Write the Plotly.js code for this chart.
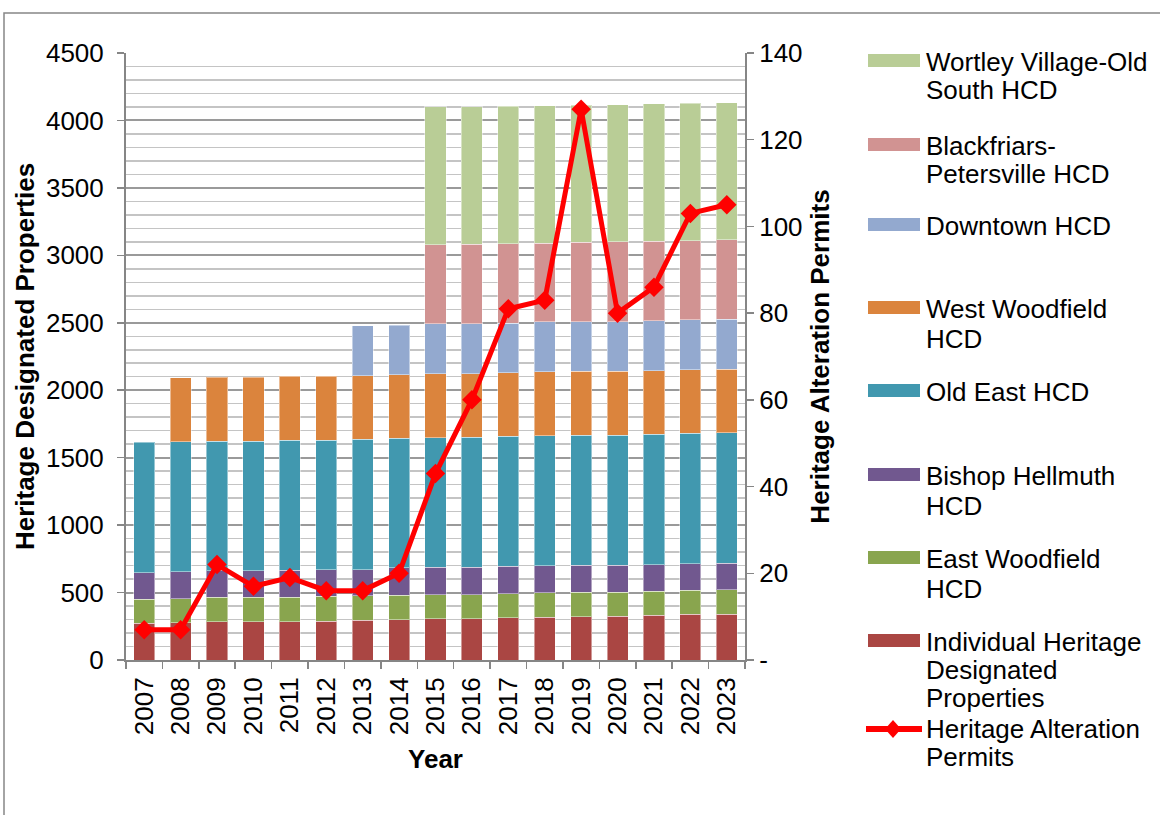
<!DOCTYPE html>
<html>
<head>
<meta charset="utf-8">
<script src="https://cdn.plot.ly/plotly-3.0.1.min.js"></script>
<style>
  html, body { margin: 0; padding: 0; background: #ffffff; }
  #chart { width: 1160px; height: 815px; }
</style>
</head>
<body>
<div id="chart"></div>
<script>
// ---------------- DATA ----------------
const years = ["2007","2008","2009","2010","2011","2012","2013","2014","2015","2016","2017","2018","2019","2020","2021","2022","2023"];

const individual    = [272,277,282,284,284,289,294,297,304,304,314,316,321,323,331,339,341];
const eastWoodfield = [180,178,183,183,183,183,183,182,180,181,178,181,181,179,178,178,178];
const bishop        = [195,200,195,193,197,197,192,205,203,202,202,202,200,200,198,197,198];
const oldEast       = [967,963,963,963,966,962,967,959,961,966,964,964,963,963,966,967,968];
const westWoodfield = [null,475,475,475,472,474,472,472,474,469,472,474,475,475,472,471,470];
const downtown      = [null,null,null,null,null,null,370,368,371,371,368,369,368,368,370,371,370];
const blackfriars   = [null,null,null,null,null,null,null,null,586,591,588,585,589,591,589,586,589];
const wortley       = [null,null,null,null,null,null,null,null,1023,1018,1018,1018,1014,1018,1018,1020,1018];

const permits       = [7,7,22,17,19,16,16,20,43,60,81,83,127,80,86,103,105];

// legend labels (wrapped as in the original)
const labelIndividual = ["Individual Heritage","Designated","Properties"];
const labelEastWood   = ["East Woodfield","HCD"];
const labelBishop     = ["Bishop Hellmuth","HCD"];
const labelOldEast    = ["Old East HCD"];
const labelWestWood   = ["West Woodfield","HCD"];
const labelDowntown   = ["Downtown HCD"];
const labelBlackfr    = ["Blackfriars-","Petersville HCD"];
const labelWortley    = ["Wortley Village-Old","South HCD"];
const labelPermits    = ["Heritage Alteration","Permits"];

const y2TickVals = [0,20,40,60,80,100,120,140];
const y2TickText = ["-","20","40","60","80","100","120","140"];

// ---------------- STYLE ----------------
const FONT = "Liberation Sans, Arial, sans-serif";
const colors = {
  individual: "#AA4643",
  eastWood:   "#89A54E",
  bishop:     "#71588F",
  oldEast:    "#4198AF",
  westWood:   "#DB843D",
  downtown:   "#93A9CF",
  blackfr:    "#D19392",
  wortley:    "#B9CD96",
  permits:    "#FF0000"
};

const L = 126, R = 745, T = 53, B = 660, W_ = 1160, H_ = 815;
const PW = R - L, PH = B - T;
const X = px => (px - L) / PW;
const Y = py => (B - py) / PH;

const barSeries = [
  {vals: individual,    lines: labelIndividual, color: colors.individual},
  {vals: eastWoodfield, lines: labelEastWood,   color: colors.eastWood},
  {vals: bishop,        lines: labelBishop,     color: colors.bishop},
  {vals: oldEast,       lines: labelOldEast,    color: colors.oldEast},
  {vals: westWoodfield, lines: labelWestWood,   color: colors.westWood},
  {vals: downtown,      lines: labelDowntown,   color: colors.downtown},
  {vals: blackfriars,   lines: labelBlackfr,    color: colors.blackfr},
  {vals: wortley,       lines: labelWortley,    color: colors.wortley}
];

const traces = barSeries.map(s => ({
  type: "bar",
  name: s.lines.join(" "),
  x: years,
  y: s.vals,
  marker: {color: s.color, line: {color: "rgba(255,255,255,0.45)", width: 1}},
  showlegend: false,
  hoverinfo: "x+y+name"
}));

traces.push({
  type: "scatter",
  mode: "lines+markers",
  name: labelPermits.join(" "),
  x: years,
  y: permits,
  yaxis: "y2",
  line: {color: colors.permits, width: 5},
  marker: {symbol: "diamond", size: 15, color: colors.permits},
  showlegend: false
});

// ---------------- CUSTOM LEGEND (layout only) ----------------
const legendItemY = [62,146,226,309,392,476,559,642,729]; // first-line centres, px
const legendLineGap = [28,28,28,30,28,30,30,28,28];
const legendSwatchX0 = 868, legendSwatchX1 = 920, legendTextX = 924;

const legendEntries = barSeries.slice().reverse().map(s => ({lines: s.lines, color: s.color, kind: "bar"}));
legendEntries.push({lines: labelPermits, color: colors.permits, kind: "line"});

const shapes = [];
const annotations = [];

legendEntries.forEach((e, i) => {
  const cy = legendItemY[i];
  if (e.kind === "bar") {
    shapes.push({type: "rect", xref: "paper", yref: "paper",
      x0: X(legendSwatchX0), x1: X(legendSwatchX1), y0: Y(cy + 5), y1: Y(cy - 8),
      fillcolor: e.color, line: {width: 0}});
  } else {
    shapes.push({type: "line", xref: "paper", yref: "paper",
      x0: X(866), x1: X(922), y0: Y(cy), y1: Y(cy),
      line: {color: e.color, width: 6}});
    const cx = 893, hw = 8, hh = 9;
    shapes.push({type: "path", xref: "paper", yref: "paper",
      path: `M ${X(cx-hw)} ${Y(cy)} L ${X(cx)} ${Y(cy-hh)} L ${X(cx+hw)} ${Y(cy)} L ${X(cx)} ${Y(cy+hh)} Z`,
      fillcolor: e.color, line: {width: 0}});
  }
  e.lines.forEach((t, j) => {
    annotations.push({xref: "paper", yref: "paper", x: X(legendTextX), y: Y(cy + j * legendLineGap[i]),
      xanchor: "left", yanchor: "middle", showarrow: false, text: t,
      font: {family: FONT, size: 26, color: "#000000"}});
  });
});

// outer chart frame
shapes.push({type: "rect", xref: "paper", yref: "paper",
  x0: X(4), x1: X(1170), y0: Y(825), y1: Y(13),
  line: {color: "#868686", width: 1.5}, fillcolor: "rgba(0,0,0,0)", layer: "below"});

const layout = {
  width: W_, height: H_,
  margin: {l: L, r: W_ - R, t: T, b: H_ - B, pad: 0},
  paper_bgcolor: "#ffffff",
  plot_bgcolor: "#ffffff",
  barmode: "stack",
  bargap: 0.42,
  showlegend: false,
  font: {family: FONT, size: 26, color: "#000000"},
  xaxis: {
    type: "category",
    range: [-0.5, years.length - 0.5],
    tickangle: -90,
    tickfont: {family: FONT, size: 26, color: "#000000"},
    ticks: "outside", ticklen: 7, tickwidth: 1.5, tickcolor: "#868686",
    tickson: "boundaries",
    showline: true, linecolor: "#868686", linewidth: 2,
    showgrid: false,
    ticklabelstandoff: 5,
    title: {text: "<b>Year</b>", font: {family: FONT, size: 26, color: "#000000"}, standoff: 16},
    automargin: false
  },
  yaxis: {
    range: [0, 4500],
    dtick: 500,
    tickfont: {family: FONT, size: 26, color: "#000000"},
    ticks: "outside", ticklen: 7, tickwidth: 1.5, tickcolor: "#868686",
    showline: true, linecolor: "#868686", linewidth: 2,
    showgrid: true, gridcolor: "#9a9a9a", gridwidth: 2,
    minor: {dtick: 100, showgrid: true, gridcolor: "#c4c4c4", gridwidth: 1.5, ticks: ""},
    zeroline: false,
    ticklabelstandoff: 8,
    title: {text: "<b>Heritage Designated Properties</b>", font: {family: FONT, size: 26, color: "#000000"}, standoff: 4},
    automargin: true
  },
  yaxis2: {
    overlaying: "y",
    side: "right",
    range: [0, 140],
    tickvals: y2TickVals,
    ticktext: y2TickText,
    tickfont: {family: FONT, size: 26, color: "#000000"},
    ticks: "outside", ticklen: 7, tickwidth: 1.5, tickcolor: "#868686",
    showline: true, linecolor: "#868686", linewidth: 2,
    showgrid: false, zeroline: false,
    ticklabelstandoff: 0,
    title: {text: "<b>Heritage Alteration Permits</b>", font: {family: FONT, size: 26, color: "#000000"}},
    automargin: false
  },
  shapes: shapes,
  annotations: annotations
};

Plotly.newPlot("chart", traces, layout, {displayModeBar: false, staticPlot: true});
</script>
</body>
</html>
